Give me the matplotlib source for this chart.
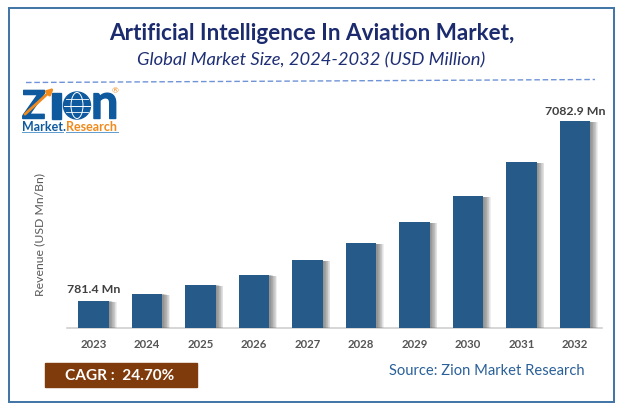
import matplotlib
matplotlib.use('Agg')
import matplotlib.pyplot as plt
import matplotlib.patheffects as pe
from matplotlib.patches import Rectangle, Circle, Ellipse

plt.rcParams['font.family'] = ['Lato', 'DejaVu Sans']

# Data
years = ['2023', '2024', '2025', '2026', '2027', '2028', '2029', '2030', '2031', '2032']
revenue = [781.4, 1027, 1343, 1694, 2203, 2800, 3537, 4449, 5643, 7082.9]
first_label = '781.4 Mn'
last_label = '7082.9 Mn'
axis_floor = -184   # bars in the picture do not start at zero
axis_top = 7514

W, H = 622, 410
fig = plt.figure(figsize=(W / 100, H / 100), dpi=100, facecolor='white')

# Overlay in pixel coordinates for frame, title and logo
bg = fig.add_axes([0, 0, 1, 1])
bg.set_xlim(0, W)
bg.set_ylim(H, 0)
bg.axis('off')

bg.add_patch(Rectangle((8.7, 8.7), 605.5, 394, fill=False, ec='#3f74a6', lw=1.4))
bg.plot([26, 595], [83.5, 80.5], color='#6f93d6', lw=1, dashes=(4, 2))

bg.text(312, 33, 'Artificial Intelligence In Aviation Market,', ha='center', va='center',
        fontsize=16.2, fontweight='bold', color='#1c2a6e')
bg.text(311, 60, 'Global Market Size, 2024-2032 (USD Million)', ha='center', va='center',
        fontsize=13.2, fontstyle='italic', color='#1f2f75')

# Logo
logo_blue = '#0f5a9e'
logo_orange = '#f08a1d'
heavy = [pe.withStroke(linewidth=1, foreground=logo_blue)]
bg.text(22, 119.5, 'Z', fontsize=28, fontweight='bold', color=logo_blue, va='baseline',
        path_effects=heavy)
bg.add_patch(Rectangle((52, 94), 9, 25.5, color=logo_blue))
bg.add_patch(Circle((77, 106.5), 13.5, color=logo_blue))
bg.add_patch(Ellipse((77, 106.5), 12, 26, fill=False, ec='white', lw=0.7))
bg.plot([64, 90], [106.5, 106.5], color='white', lw=0.7)
bg.plot([66, 88], [100, 100], color='white', lw=0.6)
bg.plot([66, 88], [113, 113], color='white', lw=0.6)
bg.text(91, 119.5, 'n', fontsize=35, fontweight='bold', color=logo_blue, va='baseline',
        path_effects=heavy)
bg.annotate('', xy=(56, 87), xytext=(23, 117),
            arrowprops=dict(arrowstyle='-|>', color=logo_orange, lw=2, mutation_scale=9))
bg.text(115, 91, '®', fontsize=6, color=logo_orange, ha='center', va='center')
bg.text(22, 131, 'Market.', fontsize=9, fontweight='bold', color=logo_blue, va='baseline')
bg.text(66, 131, 'Research', fontsize=9, fontweight='bold', color=logo_orange, va='baseline')
bg.plot([22, 63], [132.5, 132.5], color='#5f9bd0', lw=0.7)
bg.plot([66, 118], [132.5, 132.5], color='#5f9bd0', lw=0.7)

# CAGR box and source
bg.add_patch(Rectangle((45, 364), 152, 23.7, color='#7f3b0b'))
bg.text(119.5, 376.5, 'CAGR :  24.70%', ha='center', va='center', fontsize=11.1,
        fontweight='bold', color='white')
bg.text(486.5, 371, 'Source: Zion Market Research', ha='center', va='center',
        fontsize=10.6, color='#2a6099')

# Bar chart
ax = fig.add_axes([67 / W, 1 - 329.3 / H, 534.5 / W, 219.3 / H])
ax.patch.set_alpha(0)
heights = [v - axis_floor for v in revenue]
bars = ax.bar(years, heights, bottom=axis_floor, width=0.57, color='#265a88', zorder=3)

# Soft shadow on the right side of each bar
shadow = [pe.SimplePatchShadow(offset=(o, -o * 0.15), shadow_rgbFace='#555555', alpha=0.09)
          for o in (5.5, 5, 4.5, 4, 3.5, 3, 2.5, 2, 1.5, 1)] + [pe.Normal()]
for b in bars:
    b.set_path_effects(shadow)

ax.set_xlim(-0.5, 9.5)
ax.set_ylim(axis_floor, axis_top)
ax.set_yticks([])
for side in ('top', 'right', 'left'):
    ax.spines[side].set_visible(False)
ax.spines['bottom'].set_color('#d0d0d0')
ax.spines['bottom'].set_linewidth(1.2)
ax.tick_params(axis='x', length=0, pad=7)
for t in ax.get_xticklabels():
    t.set_fontsize(8.2)
    t.set_fontweight('bold')
    t.set_color('#555555')

ax.annotate(first_label, (0, revenue[0]), xytext=(0, 5), textcoords='offset points',
            ha='center', va='bottom', fontsize=8.9, fontweight='bold', color='#404040')
ax.annotate(last_label, (9, revenue[-1]), xytext=(0, 3.5), textcoords='offset points',
            ha='center', va='bottom', fontsize=8.9, fontweight='bold', color='#404040')

bg.text(40, 234, 'Revenue (USD Mn/Bn)', rotation=90, ha='center', va='center',
        fontsize=8.8, color='#595959')

fig.savefig('out.png', dpi=100)
